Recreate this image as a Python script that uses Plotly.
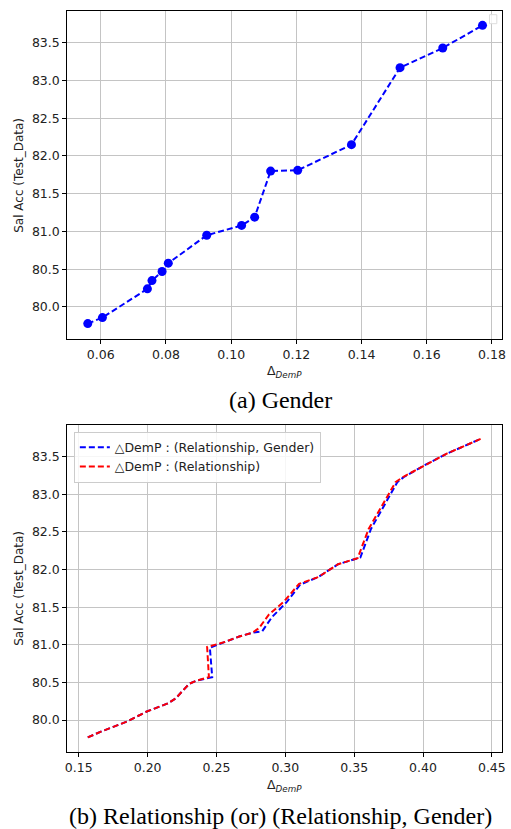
import plotly.graph_objects as go

# ---- data: (a) Gender ----
gender_x = [0.0560, 0.0605, 0.0743, 0.0757, 0.0788, 0.0807, 0.0925, 0.1032,
            0.1072, 0.1121, 0.1204, 0.1369, 0.1518, 0.1649, 0.1771]
gender_y = [79.78, 79.86, 80.24, 80.35, 80.47, 80.58, 80.95, 81.08,
            81.19, 81.80, 81.81, 82.15, 83.17, 83.43, 83.73]

# ---- data: (b) Relationship (or) (Relationship, Gender) ----
relgen_x = [0.1565, 0.1667, 0.1850, 0.1990, 0.2146, 0.2205, 0.2301, 0.2349, 0.2469,
            0.2452, 0.2565, 0.2665, 0.2760, 0.2832, 0.2904, 0.3011, 0.3108, 0.3239,
            0.3383, 0.3545, 0.3622, 0.3813, 0.3861, 0.4005, 0.4172, 0.4423]
relgen_y = [79.77, 79.85, 79.98, 80.11, 80.22, 80.29, 80.48, 80.52, 80.57,
            80.96, 81.04, 81.11, 81.16, 81.18, 81.37, 81.57, 81.80, 81.90,
            82.07, 82.16, 82.54, 83.16, 83.23, 83.38, 83.54, 83.74]
rel_x = [0.1565, 0.1667, 0.1850, 0.1990, 0.2146, 0.2205, 0.2301, 0.2349, 0.2445,
         0.2432, 0.2565, 0.2665, 0.2760, 0.2808, 0.2880, 0.2988, 0.3100, 0.3239,
         0.3383, 0.3525, 0.3605, 0.3800, 0.3855, 0.4005, 0.4172, 0.4423]
rel_y = [79.77, 79.85, 79.98, 80.11, 80.22, 80.29, 80.48, 80.52, 80.57,
         80.97, 81.04, 81.11, 81.16, 81.22, 81.40, 81.57, 81.81, 81.90,
         82.07, 82.15, 82.54, 83.16, 83.23, 83.38, 83.54, 83.74]

legend_names = ["△DemP : (Relationship, Gender)", "△DemP : (Relationship)"]
captions = ["(a) Gender", "(b) Relationship (or) (Relationship, Gender)"]
y_title = "Sal Acc (Test_Data)"
x_title = "Δ<sub><i>DemP</i></sub>"

W, H = 511, 829
fig = go.Figure()

fig.add_trace(go.Scatter(
    x=gender_x, y=gender_y, mode="lines+markers", xaxis="x", yaxis="y",
    line=dict(color="blue", width=2, dash="6px,3px"),
    marker=dict(color="blue", size=9), showlegend=False))

fig.add_trace(go.Scatter(
    x=relgen_x, y=relgen_y, mode="lines", xaxis="x2", yaxis="y2",
    name=legend_names[0], line=dict(color="blue", width=2, dash="6px,3px")))
fig.add_trace(go.Scatter(
    x=rel_x, y=rel_y, mode="lines", xaxis="x2", yaxis="y2",
    name=legend_names[1], line=dict(color="red", width=2, dash="6px,3px")))

tickfont = dict(family="DejaVu Sans", size=12.5, color="#222")
ax_common = dict(showline=True, mirror=True, linecolor="black", linewidth=1,
                 ticks="outside", ticklen=4, tickcolor="black",
                 showgrid=True, gridcolor="#c4c4c4", gridwidth=1,
                 zeroline=False, tickfont=tickfont)

xd = [66 / W, 506 / W]
y1d = [1 - 339 / H, 1 - 11 / H]
y2d = [1 - 752 / H, 1 - 424.7 / H]

fig.update_layout(
    width=W, height=H, margin=dict(l=0, r=0, t=0, b=0),
    paper_bgcolor="white", plot_bgcolor="white",
    xaxis=dict(domain=xd, range=[0.0497, 0.1831], dtick=0.02, tick0=0,
               tickformat=".2f", anchor="y", **ax_common),
    yaxis=dict(domain=y1d, range=[79.576, 83.92], dtick=0.5, tick0=0,
               tickformat=".1f", anchor="x", **ax_common),
    xaxis2=dict(domain=xd, range=[0.1416, 0.4574], dtick=0.05, tick0=0,
                tickformat=".2f", anchor="y2", **ax_common),
    yaxis2=dict(domain=y2d, range=[79.575, 83.925], dtick=0.5, tick0=0,
                tickformat=".1f", anchor="x2", **ax_common),
    legend=dict(x=72.7 / W, y=1 - 431.7 / H, xanchor="left", yanchor="top",
                bgcolor="rgba(255,255,255,0.85)", bordercolor="#cccccc",
                borderwidth=1, font=dict(family="DejaVu Sans", size=12.5, color="#222"),
                tracegroupgap=0),
    showlegend=True,
)

ann = []
for yc in [175, 588]:
    ann.append(dict(text=y_title, x=17 / W, y=1 - yc / H, xref="paper", yref="paper",
                    showarrow=False, textangle=-90, xanchor="center", yanchor="middle",
                    font=dict(family="DejaVu Sans", size=12, color="#222")))
for yc in [372, 785]:
    ann.append(dict(text=x_title, x=286 / W, y=1 - yc / H, xref="paper", yref="paper",
                    showarrow=False, xanchor="center", yanchor="middle",
                    font=dict(family="DejaVu Sans", size=12.5, color="#222")))
for cap, yc in zip(captions, [400, 816]):
    ann.append(dict(text=cap, x=282 / W, y=1 - yc / H, xref="paper", yref="paper",
                    showarrow=False, xanchor="center", yanchor="middle",
                    font=dict(family="Liberation Serif", size=24, color="black")))
fig.update_layout(annotations=ann)

# empty legend box of panel (a)
fig.add_shape(type="rect", xref="paper", yref="paper",
              x0=493.3 / W, x1=500.7 / W, y0=1 - 23.7 / H, y1=1 - 14.7 / H,
              line=dict(color="#dddddd", width=1), fillcolor="rgba(255,255,255,0.8)")

fig.write_html("out.html", config={"displayModeBar": False},
               post_script="document.body.style.margin='0px';document.body.style.overflow='hidden';")
